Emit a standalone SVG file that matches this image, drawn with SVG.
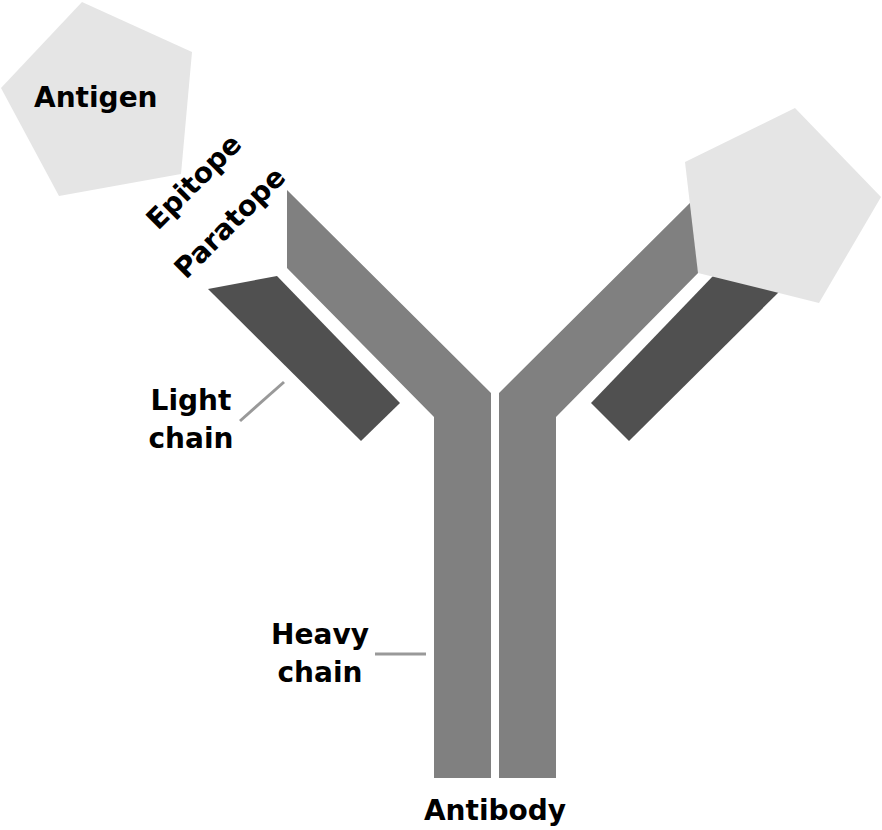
<svg xmlns="http://www.w3.org/2000/svg" width="882" height="830" viewBox="0 0 882 830">
<style>
.t{font-family:"DejaVu Sans","Liberation Sans",sans-serif;font-weight:bold;font-size:28px;fill:#000}
.ag{fill:#e5e5e5}.hv{fill:#808080}.lt{fill:#505050}
.ln{stroke:#999;stroke-width:3;fill:none}
</style>
<rect width="882" height="830" fill="#fff"/>
<g id="heavy-left"><polygon class="hv" points="287,190 491,393 491,778 434,778 434,417 287,268"/></g>
<g id="heavy-right"><polygon class="hv" points="703,190 499,393 499,778 556,778 556,417 703,268"/></g>
<g id="light-left"><polygon class="lt" points="208,289 277,276 400,403 361,441"/></g>
<g id="light-right"><polygon class="lt" points="782,289 713,276 591,403 629,441"/></g>
<g id="antigen-left"><polygon class="ag" points="82,2 192,52 181,174 59,196 1,88"/><text class="t" x="34" y="107">Antigen</text></g>
<g id="antigen-right"><polygon class="ag" points="795,108 881,197 819,303 698,273 685,162"/></g>
<g id="labels">
<text class="t" font-size="25" transform="translate(158,231) rotate(-45)">Epitope</text>
<text class="t" font-size="25" transform="translate(186,280) rotate(-45)">Paratope</text>
<text class="t" x="191" y="410" text-anchor="middle">Light</text>
<text class="t" x="191" y="448" text-anchor="middle">chain</text>
<text class="t" x="320" y="644" text-anchor="middle">Heavy</text>
<text class="t" x="320" y="682" text-anchor="middle">chain</text>
<text class="t" x="495" y="820" text-anchor="middle">Antibody</text>
</g>
<g id="connectors">
<line class="ln" x1="240" y1="421" x2="284" y2="382"/>
<line class="ln" x1="375" y1="654" x2="426" y2="654"/>
</g>
</svg>
